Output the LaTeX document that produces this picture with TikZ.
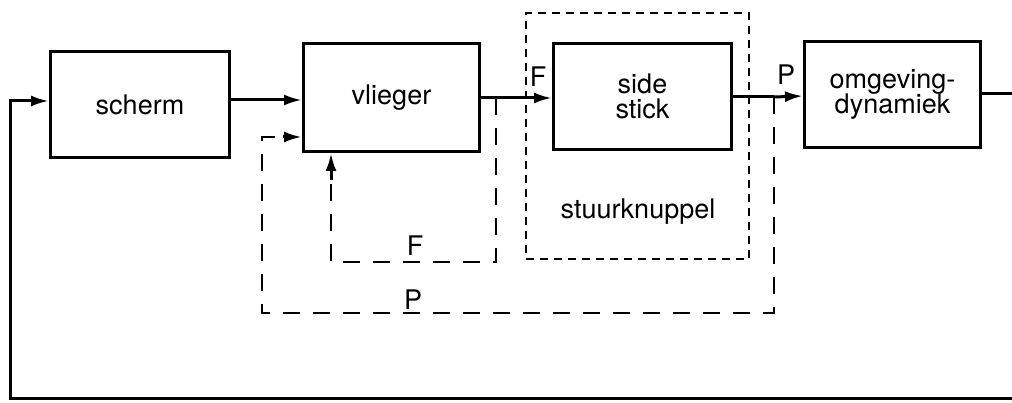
\documentclass[tikz,border=0pt]{standalone}
\usepackage{fontspec}
\setmainfont{TeX Gyre Heros}
\usetikzlibrary{arrows.meta}
\begin{document}
\begin{tikzpicture}[x=1pt,y=-1pt,
  box/.style={draw, line width=3pt, anchor=north west, inner sep=0pt, align=center, font=\fontsize{27}{28}\selectfont},
  lbl/.style={font=\fontsize{27}{28}\selectfont, inner sep=0pt},
  conn/.style={line width=3pt, -{Latex[length=18pt,width=11pt]}},
  fb/.style={line width=2.6pt, dash pattern=on 17pt off 13pt},
  grp/.style={draw, line width=2pt, dash pattern=on 8pt off 6pt}]
\useasboundingbox (0,0) rectangle (1012,403);
\node[box, minimum width=179pt, minimum height=106pt] (scherm) at (49,50) {scherm};
\node[box, minimum width=176pt, minimum height=108pt] (vlieger) at (302,42) {vlieger};
\node[box, minimum width=178pt, minimum height=106pt] (side) at (552,42) {side\\[-3pt]stick};
\node[box, minimum width=176pt, minimum height=106pt] (omg) at (803,40) {omgeving-\\[-3pt]dynamiek};
\node[grp, minimum width=223pt, minimum height=246pt, anchor=north west, inner sep=0pt] (stuur) at (525,12) {};
\node[lbl] (stuurlbl) at (638,212) {stuurknuppel};
% main line
\coordinate (tF) at (496,98);
\coordinate (tP) at (774,97);
\draw[conn] (scherm.east |- 0,100) -- (vlieger.west |- 0,100);
\draw[line width=3pt] (vlieger.east |- 0,98) -- (tF);
\draw[conn] (tF) -- (side.west |- 0,98);
\draw[line width=3pt] (side.east |- 0,97) -- (tP);
\draw[conn] (tP) -- (omg.west |- 0,96);
\coordinate (outR) at (1012,94);
\coordinate (botR) at (1012,398);
\coordinate (botL) at (10,398);
\draw[line width=3pt] (omg.east |- outR) -- (outR);
\draw[conn] (botR) -- (botL) -- (botL |- 0,101) -- (scherm.west |- 0,101);
% F feedback
\coordinate (f1) at (496,262);
\coordinate (f2) at (331,262);
\draw[fb] (tF) -- (f1) -- (f2) -- (f2 |- 0,175);
\draw[conn] (f2 |- 0,180) -- (f2 |- vlieger.south);
% P feedback
\coordinate (p1) at (774,313);
\coordinate (p2) at (262,313);
\coordinate (p3) at (262,137);
\draw[fb] (tP) -- (p1) -- (p2) -- (p3) -- (280,137);
\draw[conn] (283,137) -- (vlieger.west |- p3);
% labels
\node[lbl] (lF1) at (538,77) {F};
\node[lbl] (lP1) at (786,75) {P};
\node[lbl] (lF2) at (415,246) {F};
\node[lbl] (lP2) at (413,300) {P};
\end{tikzpicture}
\end{document}
